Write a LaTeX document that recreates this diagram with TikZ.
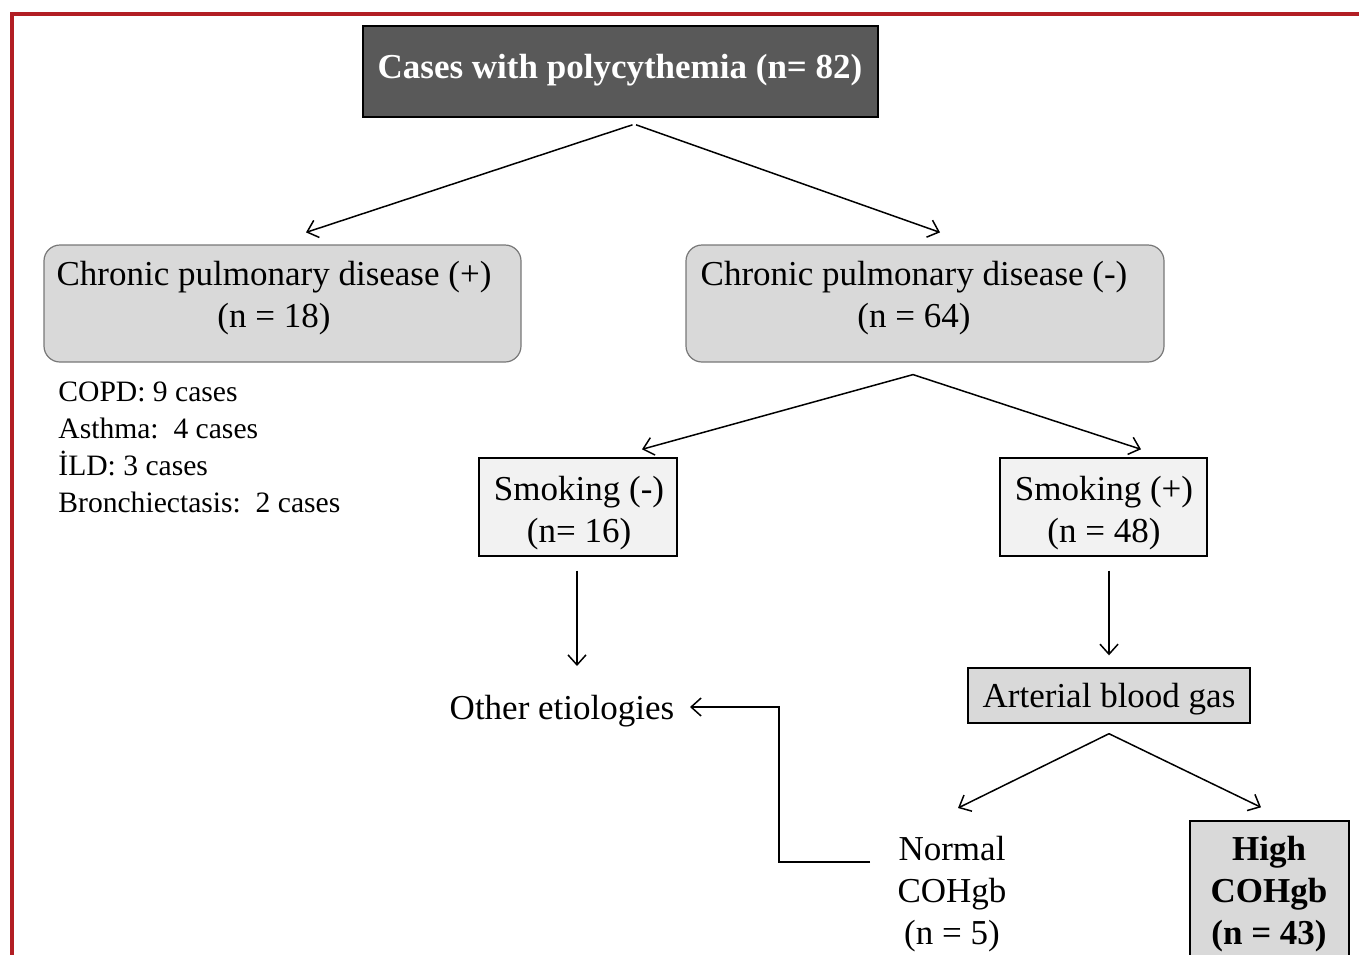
\documentclass[tikz,border=0pt]{standalone}
\usepackage{fontspec}
\setmainfont{Liberation Serif}
\usetikzlibrary{arrows.meta,calc}
\definecolor{redb}{RGB}{178,30,36}
\definecolor{darkbox}{RGB}{89,89,89}
\definecolor{lightbox}{RGB}{217,217,217}
\definecolor{palebox}{RGB}{242,242,242}
\definecolor{roundedge}{RGB}{120,120,120}
\begin{document}
\begin{tikzpicture}[x=0.5pt,y=-0.5pt,
  txt/.style={font=\fontsize{17.5}{21}\selectfont, align=center, inner sep=0pt},
  boldtxt/.style={font=\bfseries\fontsize{17.5}{21}\selectfont, align=center, inner sep=0pt},
  listtxt/.style={font=\fontsize{14.8}{18.5}\selectfont, align=left, inner sep=0pt},
  darkrect/.style={draw=black, line width=0.8pt, fill=darkbox, inner sep=0pt},
  roundbox/.style={draw=roundedge, line width=0.6pt, fill=lightbox, rounded corners=8pt, inner sep=0pt},
  palerect/.style={draw=black, line width=0.7pt, fill=palebox, inner sep=0pt},
  greyrect/.style={draw=black, line width=0.7pt, fill=lightbox, inner sep=0pt},
  arr/.style={draw=black, line width=0.75pt, -{Straight Barb[length=5pt,width=9pt]}}]
\useasboundingbox (0,0) rectangle (1359,954);
\clip (0,0) rectangle (1359,954);
\fill[white] (0,0) rectangle (1359,954);
\draw[redb, line width=2pt] (11.5,1000) -- (11.5,13.5) -- (1400,13.5);

\node[darkrect, minimum width=257.5pt, minimum height=45.5pt] (top) at (620.5,71.5) {};
\node[boldtxt, text=white] (topt) at (620,70.5) {Cases with polycythemia (n= 82)};

\node[roundbox, minimum width=238.5pt, minimum height=58.5pt] (cpdL) at (282.5,303.5) {};
\node[txt] (cpdLt) at (274,298) {Chronic pulmonary disease (+)\\(n = 18)};
\node[roundbox, minimum width=239pt, minimum height=58.5pt] (cpdR) at (925,303.5) {};
\node[txt] (cpdRt) at (914,298) {Chronic pulmonary disease (-)\\(n = 64)};

\node[listtxt, anchor=north west] (list) at (58,381) {COPD: 9 cases\\Asthma:\ \ 4 cases\\İLD: 3 cases\\Bronchiectasis:\ \ 2 cases};

\node[palerect, minimum width=99pt, minimum height=49pt] (smokN) at (578,507) {};
\node[txt] (smokNt) at (579,513) {Smoking (-)\\(n= 16)};
\node[palerect, minimum width=103.5pt, minimum height=49pt] (smokP) at (1103.5,507) {};
\node[txt] (smokPt) at (1104,513) {Smoking (+)\\(n = 48)};

\node[txt] (other) at (562,711) {Other etiologies};
\node[greyrect, minimum width=141pt, minimum height=27.5pt] (abg) at (1109,695.5) {};
\node[txt] (abgt) at (1109,699.5) {Arterial blood gas};

\node[txt] (normal) at (952,894) {Normal\\COHgb\\(n = 5)};
\node[greyrect, minimum width=79.5pt, minimum height=69pt] (high) at (1269.5,890) {};
\node[boldtxt] (hight) at (1269,894) {High\\COHgb\\(n = 43)};

\draw[arr] ($(top.south)+(12,7)$) -- ($(cpdL.north)+(23.5,-12)$);
\draw[arr] ($(top.south)+(15.5,7)$) -- ($(cpdR.north)+(15,-12)$);
\draw[arr] ($(cpdR.south)+(-12,12)$) -- ($(smokN.north)+(64,-8)$);
\draw[arr] ($(cpdR.south)+(-12,12)$) -- ($(smokP.north)+(37.5,-8)$);
\draw[arr] ($(smokN.south)+(-1,14)$) -- ($(other.center)+(15,-45)$);
\draw[arr] ($(smokP.south)+(5.5,14)$) -- ($(abg.north)+(0,-12)$);
\draw[arr] ($(abg.south)+(0,10)$) -- ($(normal.center)+(6,-86)$);
\draw[arr] ($(abg.south)+(0,10)$) -- ($(high.north)+(-8.5,-13)$);
\draw[arr] ($(normal.center)+(-82,-32)$) -- ++(-91,0) |- ($(other.center)+(128,-4)$);
\end{tikzpicture}
\end{document}
